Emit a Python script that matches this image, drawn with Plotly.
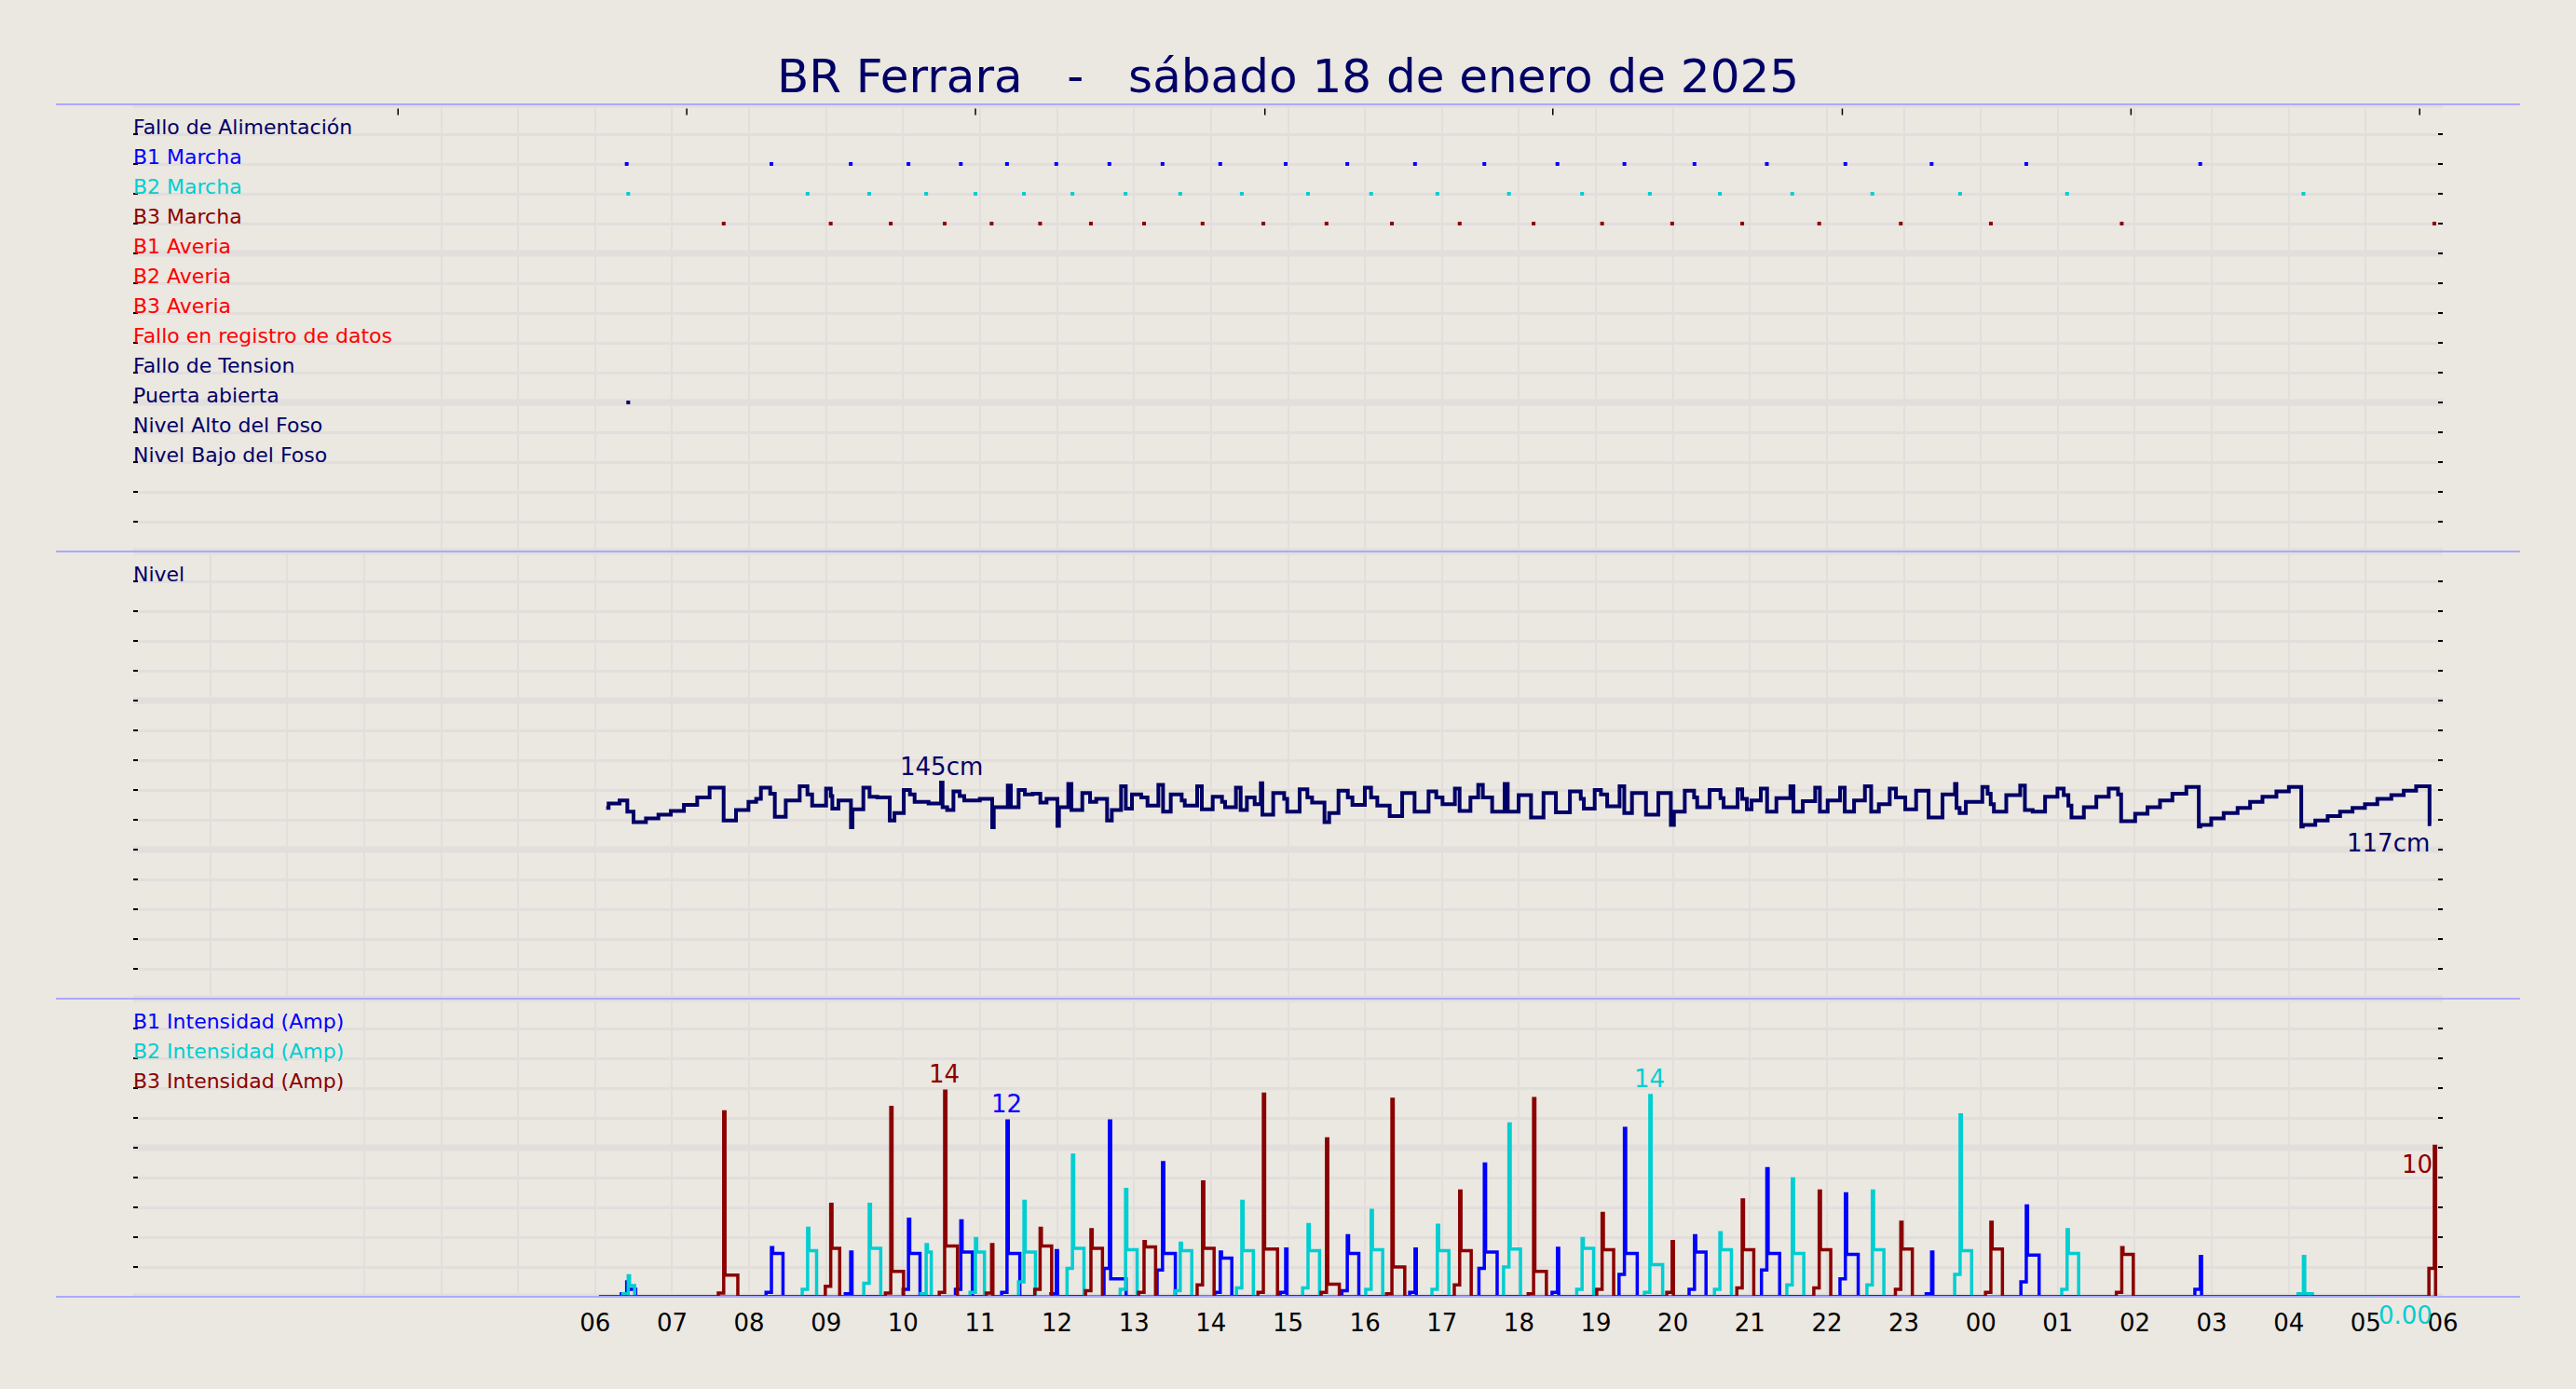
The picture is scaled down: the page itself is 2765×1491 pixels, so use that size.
import plotly.graph_objects as go
import pandas as pd

BASE = pd.Timestamp("2025-01-18 00:00:00")


def at(hours):
    return [BASE + pd.Timedelta(hours=float(h)) for h in hours]


NAVY = "#000066"
BLUE = "#0000ff"
CYAN = "#00ced1"
DRED = "#8b0000"
RED = "#ff0000"
BG = "#ebe7e1"
GRID = "#e2dedc"
SEP = "#aaaaff"
FONT = "DejaVu Sans"

TITLE = "BR Ferrara\u00a0\u00a0\u00a0-\u00a0\u00a0\u00a0sábado 18 de enero de 2025"

# ---------------- labels ----------------
status_rows = ["Fallo de Alimentación", "B1 Marcha", "B2 Marcha", "B3 Marcha",
               "B1 Averia", "B2 Averia", "B3 Averia", "Fallo en registro de datos",
               "Fallo de Tension", "Puerta abierta", "Nivel Alto del Foso", "Nivel Bajo del Foso"]
status_colors = [NAVY, BLUE, CYAN, DRED, RED, RED, RED, RED, NAVY, NAVY, NAVY, NAVY]
level_row = "Nivel"
current_rows = ["B1 Intensidad (Amp)", "B2 Intensidad (Amp)", "B3 Intensidad (Amp)"]
current_colors = [BLUE, CYAN, DRED]

hour_labels = ["06", "07", "08", "09", "10", "11", "12", "13", "14", "15", "16", "17",
               "18", "19", "20", "21", "22", "23", "00", "01", "02", "03", "04", "05", "06"]
top_tick_h = [3.44, 7.19, 10.94, 14.70, 18.44, 22.20, 25.95, 29.70]

# ---------------- level (cm), hours from 18/01 00:00 ----------------
level_h = [6.144, 6.175, 6.318, 6.418, 6.499, 6.660, 6.822, 6.983, 7.153, 7.326, 7.487, 7.669,
           7.830, 7.992, 8.092, 8.153, 8.274, 8.334, 8.476, 8.657, 8.758, 8.819, 9.000, 9.061,
           9.081, 9.161, 9.323, 9.343, 9.484, 9.565, 9.666, 9.827, 9.888, 10.009, 10.089, 10.150,
           10.331, 10.493, 10.513, 10.573, 10.654, 10.735, 10.795, 10.997, 11.158, 11.178, 11.360,
           11.400, 11.501, 11.582, 11.683, 11.783, 11.864,
           12.005, 12.025, 12.146, 12.187, 12.328, 12.429, 12.509, 12.650, 12.711, 12.832, 12.893,
           12.973, 13.094, 13.175, 13.316, 13.377, 13.477, 13.619, 13.659, 13.820, 13.881, 14.022,
           14.143, 14.183, 14.324, 14.385, 14.466, 14.567, 14.647, 14.667, 14.808, 14.950, 14.990,
           15.151, 15.252, 15.313, 15.474, 15.535, 15.656, 15.777, 15.837, 15.998, 16.079, 16.160,
           16.321, 16.483, 16.644, 16.826, 16.926, 17.007, 17.168, 17.229, 17.370, 17.471, 17.531,
           17.652, 17.814, 17.854,
           17.996, 18.157, 18.319, 18.480, 18.662, 18.803, 18.843, 18.984, 19.065, 19.146, 19.307,
           19.368, 19.468, 19.650, 19.811, 19.973, 20.013, 20.154, 20.275, 20.315, 20.477, 20.618,
           20.658, 20.840, 20.900, 20.961, 21.021, 21.142, 21.223, 21.344, 21.526, 21.566, 21.687,
           21.848, 21.909, 22.010, 22.171, 22.232, 22.353, 22.494, 22.575, 22.675, 22.816, 22.897,
           23.018, 23.159, 23.321, 23.502, 23.664, 23.684, 23.724, 23.805,
           24.019, 24.088, 24.128, 24.169, 24.330, 24.511, 24.572, 24.673, 24.834, 24.995, 25.076,
           25.137, 25.177, 25.338, 25.500, 25.661, 25.782, 25.822, 26.004, 26.165, 26.327, 26.488,
           26.669, 26.831, 26.851, 26.992, 27.154, 27.335, 27.497, 27.658, 27.839, 28.001, 28.162,
           28.182, 28.344, 28.505, 28.666, 28.828, 28.989, 29.150, 29.332, 29.493, 29.654, 29.828,
           29.850]
level_cm = [128, 131, 133, 125.5, 118.5, 121, 123.5, 126, 130, 135, 141.5, 119.5,
            126.5, 132, 134, 141.5, 137.5, 122, 133, 142.5, 137, 129.5, 141, 136,
            127.5, 133, 115, 127, 141.5, 135.5, 135, 119.5, 124.5, 140, 137, 132,
            131, 145, 128.5, 126.5, 139, 136, 133, 134, 115, 128.5, 143,
            128.5, 140, 137, 137.5, 131.5, 134,
            116, 128.5, 144, 126.5, 138, 132, 134, 119.5, 126.5, 142.5, 127.5,
            137, 135, 129.5, 143.5, 125.5, 137, 133, 129.5, 142.5, 127, 135.5,
            132, 128.5, 141.5, 126.5, 135, 130.5, 144.5, 123.5, 138, 134, 125.5,
            140.5, 135, 131.5, 118.5, 124.5, 139.5, 135, 130, 141.5, 135, 129.5,
            122.5, 138, 125.5, 139, 135, 130.5, 141, 126, 135, 143.5, 135,
            125.5, 144, 125.5,
            136.5, 121.5, 138, 125, 139, 134, 127.5, 140, 137, 129, 142.5,
            124.5, 138, 123.5, 138, 116.5, 125.5, 139.5, 135, 128.5, 140, 134.5,
            128.5, 140.5, 134, 127, 133, 141, 125.5, 134.5, 142.5, 125.5, 132.5,
            141.5, 125.5, 133, 141.5, 125.5, 133, 142.5, 125.5, 130.5, 141, 135,
            127, 139.5, 121.5, 137, 144, 128, 124.5, 132,
            142, 137.5, 130.5, 125.5, 136.5, 143, 126.5, 125.5, 135.5, 141, 136.5,
            129.5, 121.5, 128.5, 135.5, 141, 137, 119, 124, 128.5, 133, 137.5,
            142, 115.5, 116.5, 121, 124.5, 128, 132, 135.5, 139, 142, 115.5,
            116.5, 119.5, 122.5, 125.5, 128, 130.5, 134, 136.5, 139.5, 142.5, 117,
            117]

# ---------------- pump runs (hours, amps) ----------------
b1_h = [6.41, 8.29, 9.32, 10.07, 10.75, 11.35, 11.99, 12.68, 13.37, 14.12, 14.97, 15.77,
        16.65, 17.55, 18.50, 19.37, 20.28, 21.22, 22.24, 23.36, 24.59, 26.85]
b1_pre = [0.2, 0.3, 0.2, 0.5, 0.5, 0.3, 0.2, 1.9, 1.8, 0.3, 0.3, 0.4, 0.3, 1.9, 0.3, 1.5,
          0.5, 1.8, 1.2, 0.2, 1.0, 0.5]
b1_peak = [1.0, 3.3, 3.0, 5.2, 5.1, 11.8, 3.1, 11.8, 9.0, 3.0, 3.2, 4.1, 3.2, 8.9, 3.25,
           11.3, 4.1, 8.6, 6.9, 3.0, 6.1, 2.7]
b1_flat = [0.5, 2.9, 0.0, 2.9, 3.0, 2.9, 0.0, 1.2, 2.9, 2.6, 0.0, 2.9, 0.0, 3.0, 0.0, 2.9,
           3.0, 2.9, 2.85, 0.0, 2.8, 0.0]
b1_min = [6, 8, 0, 8, 8, 9, 0, 12, 9, 8, 0, 8, 0, 9, 0, 9, 8, 9, 9, 0, 9, 0]

b2_h = [6.43, 8.76, 9.56, 10.30, 10.94, 11.57, 12.20, 12.89, 13.60, 14.40, 15.26, 16.08,
        16.94, 17.87, 18.82, 19.70, 20.61, 21.55, 22.59, 23.73, 25.12, 28.19]
b2_pre = [0.2, 0.5, 0.9, 0.2, 0.3, 1.0, 1.9, 0.5, 0.4, 0.6, 0.6, 0.5, 0.5, 2.0, 0.5, 0.3,
          0.5, 0.8, 0.8, 1.5, 0.5, 0.2]
b2_peak = [1.4, 4.6, 6.2, 3.5, 3.9, 6.4, 9.5, 7.2, 3.6, 6.4, 4.85, 5.8, 4.8, 11.6, 3.9,
           13.5, 4.3, 7.9, 7.1, 12.2, 4.5, 2.7]
b2_flat = [0.75, 3.1, 3.25, 3.0, 3.0, 3.0, 3.25, 3.15, 3.1, 3.1, 3.1, 3.15, 3.1, 3.2, 3.25,
           2.15, 3.15, 2.9, 3.15, 3.1, 2.9, 0.2]
b2_min = [4, 6, 8, 3, 6, 8, 8, 8, 8, 8, 8, 8, 8, 8, 8, 9, 8, 8, 8, 8, 8, 6]

b3_h = [7.67, 9.06, 9.84, 10.54, 11.15, 11.78, 12.44, 13.13, 13.89, 14.68, 15.50, 16.35,
        17.23, 18.19, 19.08, 19.99, 20.90, 21.90, 22.96, 24.13, 25.83, 29.89]
b3_pre = [0.25, 0.7, 0.25, 0.3, 0.25, 0.5, 0.4, 0.3, 0.8, 0.3, 0.3, 0.2, 0.8, 0.2, 0.5,
          0.3, 0.6, 0.6, 0.5, 0.3, 0.3, 1.9]
b3_peak = [12.4, 6.2, 12.7, 13.8, 3.5, 4.6, 4.5, 3.7, 7.7, 13.6, 10.6, 13.25, 7.1, 13.3,
           5.6, 3.7, 6.5, 7.1, 5.0, 5.0, 3.3, 10.1]
b3_flat = [1.45, 3.25, 1.7, 3.4, 0.0, 3.4, 3.25, 3.35, 3.25, 3.2, 0.85, 2.0, 3.1, 1.7, 3.15,
           0.0, 3.15, 3.15, 3.2, 3.2, 2.85, 0.0]
b3_min = [10, 6, 9, 9, 0, 8, 8, 8, 8, 10, 9, 9, 8, 9, 8, 0, 8, 8, 8, 8, 8, 0]

door_h = [6.43]
last_reading_h = 29.89
b2_last_text = "0.00"
b3_last_text = "10"


def run_trace(h, pre, peak, flat, mins):
    xs, ys = [6.05], [0.0]
    for t, p, pk, f, m in zip(h, pre, peak, flat, mins):
        xs += [t - 0.07, t, t + 1 / 60, t + (1 + m) / 60]
        ys += [p, pk, f, 0.0]
    return xs, ys


fig = go.Figure()

# currents (bottom panel)
for (h, pre, pk, fl, mn, col) in [(b1_h, b1_pre, b1_peak, b1_flat, b1_min, BLUE),
                                  (b2_h, b2_pre, b2_peak, b2_flat, b2_min, CYAN),
                                  (b3_h, b3_pre, b3_peak, b3_flat, b3_min, DRED)]:
    xs, ys = run_trace(h, pre, pk, fl, mn)
    if col == CYAN:
        xs.append(last_reading_h)
        ys.append(0.0)
    fig.add_trace(go.Scatter(x=at(xs), y=ys, mode="lines", xaxis="x", yaxis="y",
                             line=dict(color=col, width=3.5, shape="hv"), hoverinfo="skip"))

# level (middle panel)
fig.add_trace(go.Scatter(x=at(level_h), y=level_cm, mode="lines", xaxis="x2", yaxis="y2",
                         line=dict(color=NAVY, width=4, shape="hv"), hoverinfo="skip"))

# status markers (top panel)
row_y = {name: 14 - i for i, name in enumerate(status_rows)}
for h, name, col in [(b1_h, "B1 Marcha", BLUE), (b2_h, "B2 Marcha", CYAN),
                     (b3_h, "B3 Marcha", DRED), (door_h, "Puerta abierta", NAVY)]:
    fig.add_trace(go.Scatter(x=at(h), y=[row_y[name]] * len(h), mode="markers",
                             xaxis="x3", yaxis="y3", hoverinfo="skip",
                             marker=dict(symbol="square", size=4, color=col, line=dict(width=0))))

# ---------------- axes ----------------
xr = [BASE, BASE + pd.Timedelta(hours=30)]
tick_hours = list(range(0, 31))
tick_text = [""] * 6 + hour_labels


def xax(anchor, labels):
    d = dict(anchor=anchor, range=xr, domain=[0, 1], tickmode="array", tickvals=at(tick_hours),
             ticktext=tick_text, showgrid=True, gridcolor=GRID, gridwidth=2, zeroline=False,
             showline=False, ticks="", showticklabels=labels,
             tickfont=dict(family=FONT, size=26, color="black"), ticklabelstandoff=10)
    return d


def yax(anchor, dom, rng, vals, texts):
    return dict(anchor=anchor, domain=dom, range=rng, tickmode="array", tickvals=vals,
                ticktext=texts, ticklabelposition="inside top", ticks="inside", ticklen=5,
                tickwidth=2, tickcolor="black", mirror="ticks", showgrid=True, gridcolor=GRID,
                gridwidth=3, zeroline=False, showline=False,
                ticklabelshift=9, ticklabelstandoff=-3,
                tickfont=dict(family=FONT, size=22, color=NAVY))


top_vals = list(range(0, 16))
top_text = []
for v in top_vals:
    i = 14 - v
    if 0 <= i < len(status_rows):
        top_text.append(f"<span style='color:{status_colors[i]}'>{status_rows[i]}</span>")
    else:
        top_text.append("")

mid_vals = list(range(0, 301, 20))
mid_text = [level_row if v == 280 else "" for v in mid_vals]

bot_vals = list(range(0, 21, 2))
bot_text = []
for v in bot_vals:
    i = (18 - v) // 2
    if v in (18, 16, 14):
        bot_text.append(f"<span style='color:{current_colors[i]}'>{current_rows[i]}</span>")
    else:
        bot_text.append("")

shapes = []
# heavier grid lines every 5 rows
for yref, rng, step in [("y", 20, 10), ("y2", 300, 100), ("y3", 15, 5)]:
    for v in range(0, rng + 1, step):
        shapes.append(dict(type="line", xref="paper", yref=yref, x0=0, x1=1, y0=v, y1=v,
                           line=dict(color=GRID, width=7), layer="below"))
# start-of-day marker line
shapes.append(dict(type="line", xref="x", yref="paper", x0=BASE + pd.Timedelta(hours=6),
                   x1=BASE + pd.Timedelta(hours=6), y0=0.25, y1=1,
                   line=dict(color=SEP, width=1.5), layer="below"))
shapes.append(dict(type="line", xref="x", yref="paper", x0=BASE + pd.Timedelta(hours=6),
                   x1=BASE + pd.Timedelta(hours=6), y0=0, y1=0.25,
                   line=dict(color="#c4c0c0", width=1), layer="below"))
# panel separators
for yp in [0, 0.25, 0.625, 1]:
    shapes.append(dict(type="line", xref="paper", yref="paper", x0=-0.0335, x1=1.0335,
                       y0=yp, y1=yp, line=dict(color=SEP, width=2), layer="above"))
# top ticks
for t in at(top_tick_h):
    shapes.append(dict(type="line", xref="x3", yref="paper", x0=t, x1=t,
                       y0=1 - 4.5 / 1280, y1=1 - 11.5 / 1280,
                       line=dict(color="black", width=1.5), layer="above"))

# ---------------- annotations ----------------
ann = []
imax = level_cm.index(max(level_cm))
ann.append(dict(x=at([level_h[imax]])[0], y=level_cm[imax], xref="x2", yref="y2",
                text=f"{level_cm[imax]:.0f}cm", showarrow=False, xanchor="center",
                yanchor="bottom", yshift=0, font=dict(family=FONT, size=26, color=NAVY)))
ann.append(dict(x=at([level_h[-1]])[0], y=level_cm[-1], xref="x2", yref="y2",
                text=f"{level_cm[-1]:.0f}cm", showarrow=False, xanchor="right",
                yanchor="top", yshift=-3, font=dict(family=FONT, size=26, color=NAVY)))
for h, pk, col in [(b3_h, b3_peak, DRED), (b1_h, b1_peak, BLUE), (b2_h, b2_peak, CYAN)]:
    i = pk.index(max(pk))
    ann.append(dict(x=at([h[i]])[0], y=pk[i], xref="x", yref="y", text=f"{round(pk[i])}",
                    showarrow=False, xanchor="center", yanchor="bottom", yshift=1,
                    font=dict(family=FONT, size=26, color=col)))
ann.append(dict(x=at([b3_h[-1]])[0], y=b3_peak[-1], xref="x", yref="y", text=b3_last_text,
                showarrow=False, xanchor="right", yanchor="top", yshift=-3,
                font=dict(family=FONT, size=26, color=DRED)))
ann.append(dict(x=at([last_reading_h])[0], y=0, xref="x", yref="y", text=b2_last_text,
                showarrow=False, xanchor="right", yanchor="top", yshift=-3,
                font=dict(family=FONT, size=26, color=CYAN)))

fig.update_layout(
    width=2765, height=1491, autosize=False,
    margin=dict(l=143, r=143, t=112, b=99, pad=0),
    paper_bgcolor=BG, plot_bgcolor=BG,
    showlegend=False, hovermode=False,
    font=dict(family=FONT, color=NAVY),
    title=dict(text=TITLE, x=0.5, xanchor="center", y=1 - 81 / 1491, yanchor="middle",
               yref="container", font=dict(family=FONT, size=50, color=NAVY)),
    xaxis=xax("y", True),
    xaxis2=xax("y2", False),
    xaxis3=xax("y3", False),
    yaxis=yax("x", [0, 0.25], [0, 20], bot_vals, bot_text),
    yaxis2=yax("x2", [0.25, 0.625], [0, 300], mid_vals, mid_text),
    yaxis3=yax("x3", [0.625, 1], [0, 15], top_vals, top_text),
    shapes=shapes,
    annotations=ann,
)

fig.write_html("out.html", config={"displayModeBar": False},
               post_script="document.body.style.margin='0';document.body.style.overflow='hidden';")
